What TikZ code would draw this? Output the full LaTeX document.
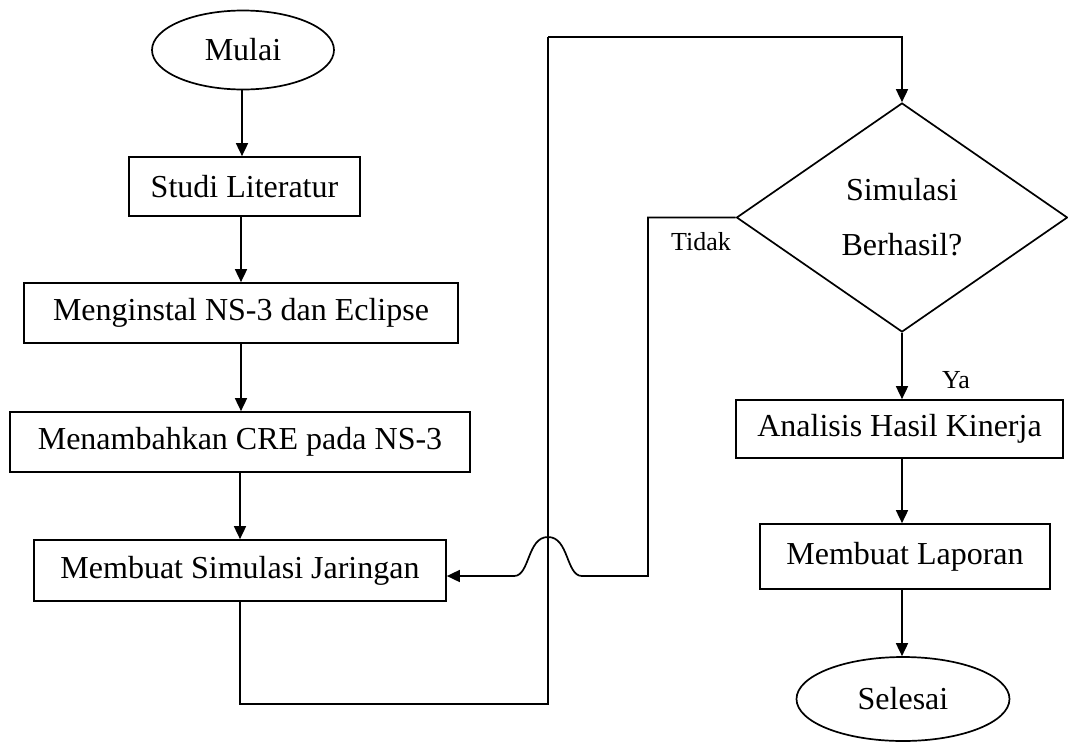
\documentclass[tikz,border=0pt]{standalone}
\usepackage{fontspec}
\setmainfont{Liberation Serif}
\usetikzlibrary{arrows.meta,shapes.geometric}
\tikzset{
  base/.style={draw=black, line width=1.7pt, inner sep=0pt, font=\fontsize{32}{38}\selectfont, text=black},
  procbox/.style={base, rectangle},
  termin/.style={base, ellipse},
  decis/.style={base, diamond, align=center, font=\fontsize{32}{55}\selectfont},
  lbl/.style={inner sep=0pt, font=\fontsize{26}{30}\selectfont, text=black},
  arr/.style={draw=black, line width=1.7pt, -{Triangle[length=13pt,width=12pt]}},
  ln/.style={draw=black, line width=1.7pt}
}
\begin{document}
\begin{tikzpicture}[x=1pt,y=-1pt]
\useasboundingbox[fill=white] (0,0) rectangle (1068,742);
% left column
\node[termin, minimum width=182pt, minimum height=79pt] (mulai) at (243,50) {Mulai};
\node[procbox, minimum width=231pt, minimum height=59pt] (studi) at (244.5,186.5) {Studi Literatur};
\node[procbox, minimum width=434pt, minimum height=60pt] (instal) at (241,313) {Menginstal NS-3 dan Eclipse};
\node[procbox, minimum width=460pt, minimum height=60pt] (tambah) at (240,442) {Menambahkan CRE pada NS-3};
\node[procbox, minimum width=412pt, minimum height=61pt] (jaring) at (240,570.5) {Membuat Simulasi Jaringan};
% right column
\node[decis, minimum width=331pt, minimum height=229pt, shape aspect=1.45] (diam) at (902,217.5) {Simulasi\\Berhasil?};
\node[procbox, minimum width=327pt, minimum height=58pt] (anal) at (899.5,429) {Analisis Hasil Kinerja};
\node[procbox, minimum width=290pt, minimum height=65pt] (lapor) at (905,556.5) {Membuat Laporan};
\node[termin, minimum width=213pt, minimum height=84pt] (selesai) at (903,699) {Selesai};
% labels
\node[lbl] (tidak) at (701,242) {Tidak};
\node[lbl] (ya) at (956,380) {Ya};
% connectors
\draw[arr] (mulai.south -| 242,0) -- (studi.north -| 242,0);
\draw[arr] (studi.south -| instal.north) -- (instal.north);
\draw[arr] (instal.south) -- (tambah.north -| instal.south);
\draw[arr] (tambah.south) -- (jaring.north);
\draw[ln] (jaring.south) |- (548,704) -- (548,37);
\draw[arr] (548,37) -| (diam.north);
\draw[arr] (diam.west) -| (648,576) -- (582,576)
   .. controls (566,576) and (569,537) .. (548,537)
   .. controls (527,537) and (530,576) .. (514,576)
   -- ([yshift=-5.5pt]jaring.east);
\draw[arr] (diam.south) -- (anal.north -| diam.south);
\draw[arr] (anal.south -| diam.south) -- (lapor.north -| diam.south);
\draw[arr] (lapor.south -| diam.south) -- (selesai.north -| diam.south);
\end{tikzpicture}
\end{document}
